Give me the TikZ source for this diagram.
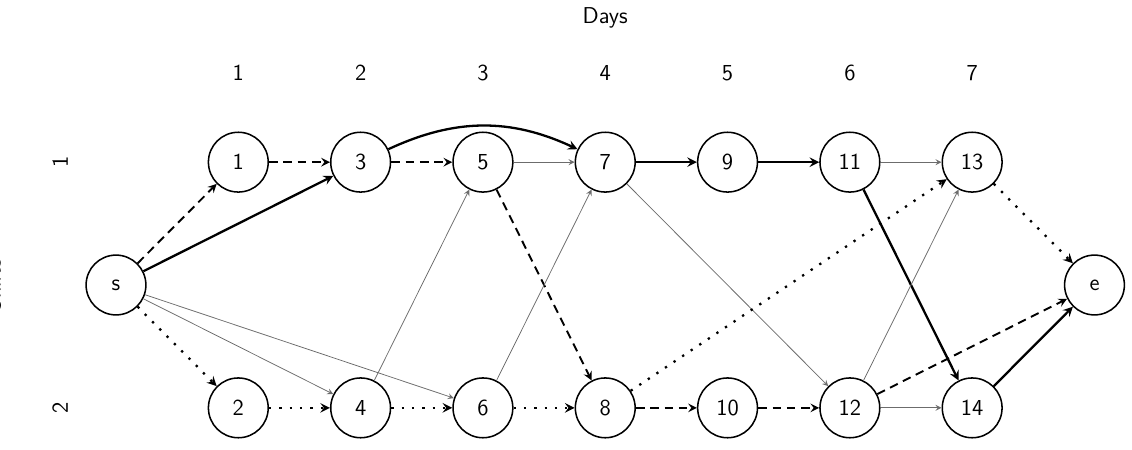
\documentclass[tikz,border=0pt]{standalone}
\usetikzlibrary{positioning}

\tikzset{
    job/.style={circle,draw,thick,minimum size=1.1cm,inner sep=0pt},
    greyarc/.style={->,gray!85!black,thin},
    bestarc/.style={->,very thick},
    dasharc/.style={->,line width=1pt,dash pattern=on 4.5pt off 3pt},
    dotarc/.style={->,line width=1.2pt,dash pattern=on 1.2pt off 4.2pt},
}

\begin{document}
\begin{tikzpicture}[>=stealth,font=\sffamily\large]

    \useasboundingbox (-2.134,-3.017) rectangle (18.69,5.243);

    % axes
    \node (days) at (9,4.91) {Days};
    \node[rotate=90] (shifts) at (-2.27,0) {Shifts};
    \node[rotate=90] (shift1) at (-1.03,2.26) {1};
    \node[rotate=90] (shift2) at (-1.03,-2.26) {2};

    % jobs
    \node[job] (s) at (0,0) {s};
    \node[job] (e) at (18,0) {e};
    \foreach \d in {1,...,7} {
        \pgfmathtruncatemacro\t{2*\d-1}
        \pgfmathtruncatemacro\b{2*\d}
        \node (day\d) at (\d*2.25,3.9) {\d};
        \node[job] (n\t) at (\d*2.25,2.26) {\t};
        \node[job] (n\b) at (\d*2.25,-2.26) {\b};
    }

    % arcs
    \draw[dasharc] (s) -- (n1);
    \draw[bestarc] (s) -- (n3);
    \draw[dotarc] (s) -- (n2);
    \draw[greyarc] (s) -- (n4);
    \draw[greyarc] (s) -- (n6);

    \draw[dasharc] (n1) -- (n3);
    \draw[dasharc] (n3) -- (n5);
    \draw[bestarc] (n3) to[bend left=25] (n7);
    \draw[greyarc] (n5) -- (n7);
    \draw[dasharc] (n5) -- (n8);
    \draw[greyarc] (n4) -- (n5);
    \draw[greyarc] (n6) -- (n7);

    \draw[dotarc] (n2) -- (n4);
    \draw[dotarc] (n4) -- (n6);
    \draw[dotarc] (n6) -- (n8);

    \draw[bestarc] (n7) -- (n9);
    \draw[bestarc] (n9) -- (n11);
    \draw[greyarc] (n7) -- (n12);
    \draw[dotarc] (n8) -- (n13);
    \draw[dasharc] (n8) -- (n10);
    \draw[dasharc] (n10) -- (n12);

    \draw[greyarc] (n11) -- (n13);
    \draw[bestarc] (n11) -- (n14);
    \draw[greyarc] (n12) -- (n13);
    \draw[greyarc] (n12) -- (n14);

    \draw[dasharc] (n12) -- (e);
    \draw[dotarc] (n13) -- (e);
    \draw[bestarc] (n14) -- (e);

\end{tikzpicture}
\end{document}
